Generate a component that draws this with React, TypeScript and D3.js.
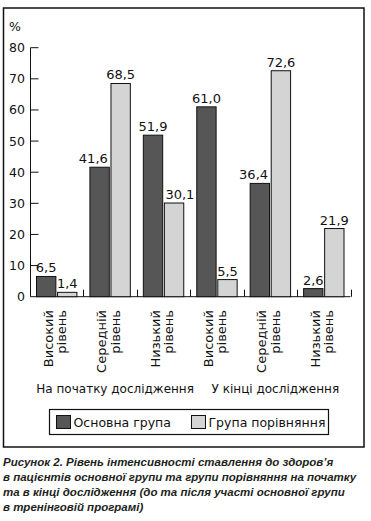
import React from 'react';
import * as d3 from 'd3';

const levels = ['Високий', 'Середній', 'Низький', 'Високий', 'Середній', 'Низький'];
const levelSuffix = 'рівень';
const periods = ['На початку дослідження', 'У кінці дослідження'];
const seriesNames = ['Основна група', 'Група порівняння'];
const mainGroup = [6.5, 41.6, 51.9, 61.0, 36.4, 2.6];
const comparisonGroup = [1.4, 68.5, 30.1, 5.5, 72.6, 21.9];
const yTicks = [0, 10, 20, 30, 40, 50, 60, 70, 80];
const captionLines = [
  'Рисунок 2. Рівень інтенсивності ставлення до здоров’я',
  'в пацієнтів основної групи та групи порівняння на початку',
  'та в кінці дослідження (до та після участі основної групи',
  'в тренінговій програмі)',
];

const colors = ['#565656', '#d4d4d4'];
const font = '"DejaVu Sans", sans-serif';

export default function App() {
  const width = 371;
  const height = 521;

  const x0 = d3.scaleBand<number>().domain(d3.range(levels.length)).range([30, 350.5]).padding(0);
  const bw = x0.bandwidth();
  const x1 = d3.scaleBand<number>().domain([0, 1]).range([6.5, bw - 6.5]).paddingInner(0.08);
  const y = d3.scaleLinear().domain([0, 80]).range([296.7, 47.7]);

  const series = [mainGroup, comparisonGroup];
  const fmt = (v: number) => v.toFixed(1).replace('.', ',');
  const labelW = (v: number) => fmt(v).length * 7.3 - 4;

  // centres of the two period groups (3 bands each)
  const periodX = periods.map((_, i) => {
    const a = x0(i * 3)!;
    const b = x0(i * 3 + 2)! + bw;
    return (a + b) / 2 + 5;
  });

  // value labels nudge away from a taller neighbouring bar
  const labelPos = (i: number, j: number) => {
    const v = series[j][i];
    const other = series[1 - j][i];
    const left = x1(j)!;
    const right = left + x1.bandwidth();
    const tooWide = labelW(v) > x1.bandwidth();
    if (tooWide && other > v) {
      return j === 0
        ? { x: right - 1.5, anchor: 'end' }
        : { x: left + 1, anchor: 'start' };
    }
    return { x: (left + right) / 2, anchor: 'middle' };
  };

  return (
    <svg
      width={width}
      height={height}
      style={{ position: 'absolute', left: 0, top: 0, background: '#fff' }}
      fontFamily={font}
    >
      <rect x={3.5} y={8} width={360.5} height={439} fill="none" stroke="#111" strokeWidth={1.5} />

      {/* y axis */}
      <text x={9} y={31} fontSize={12.5} fill="#111">%</text>
      <line x1={30.5} x2={30.5} y1={y(80)} y2={y(0)} stroke="#111" />
      {yTicks.map(t => (
        <g key={t}>
          {t > 0 && <line x1={30.5} x2={38.5} y1={y(t)} y2={y(t)} stroke="#111" />}
          <text x={25} y={y(t)} dy="0.36em" textAnchor="end" fontSize={12.5} fill="#111">
            {t}
          </text>
        </g>
      ))}

      {/* x axis */}
      <line x1={30.5} x2={350.5} y1={y(0)} y2={y(0)} stroke="#111" />
      {d3.range(1, levels.length + 1).map(i => {
        const xx = Math.round(30 + i * bw) + 0.5;
        return <line key={i} x1={xx} x2={xx} y1={y(0)} y2={y(0) - 7} stroke="#111" />;
      })}

      {/* bars */}
      {levels.map((_, i) => (
        <g key={i} transform={`translate(${x0(i)},0)`}>
          {series.map((s, j) => {
            const lp = labelPos(i, j);
            return (
              <g key={j}>
                <rect
                  x={x1(j)}
                  y={y(s[i])}
                  width={x1.bandwidth()}
                  height={y(0) - y(s[i])}
                  fill={colors[j]}
                  stroke="#111"
                  strokeWidth={1}
                />
                <text
                  x={lp.x}
                  y={y(s[i]) - 4}
                  textAnchor={lp.anchor}
                  fontSize={13}
                  fill="#111"
                >
                  {fmt(s[i])}
                </text>
              </g>
            );
          })}
        </g>
      ))}

      {/* category labels */}
      {levels.map((lv, i) => {
        const c = x0(i)! + bw / 2;
        return (
          <g key={i} fontSize={13} fill="#111" textAnchor="end">
            <text transform={`translate(${c - 4},310) rotate(-90)`}>{lv}</text>
            <text transform={`translate(${c + 9.5},310) rotate(-90)`}>{levelSuffix}</text>
          </g>
        );
      })}

      {/* period labels */}
      {periods.map((p, i) => (
        <text key={p} x={periodX[i]} y={393} textAnchor="middle" fontSize={12} fill="#111">
          {p}
        </text>
      ))}

      {/* legend */}
      <rect x={49.5} y={409.5} width={279} height={25} fill="none" stroke="#111" strokeWidth={1.2} />
      {seriesNames.map((n, j) => {
        const lx = j === 0 ? 56.5 : 191.5;
        return (
          <g key={n}>
            <rect x={lx} y={415.5} width={14} height={13} fill={colors[j]} stroke="#111" />
            <text x={lx + 17} y={426.5} fontSize={12.5} fill="#111">{n}</text>
          </g>
        );
      })}

      {/* caption */}
      {captionLines.map((l, i) => (
        <text
          key={i}
          x={3}
          y={466 + i * 15}
          fontFamily='"Liberation Sans", Arial, sans-serif'
          fontWeight="bold"
          fontStyle="italic"
          fontSize={11.5}
          fill="#231f20"
        >
          {l}
        </text>
      ))}
    </svg>
  );
}
